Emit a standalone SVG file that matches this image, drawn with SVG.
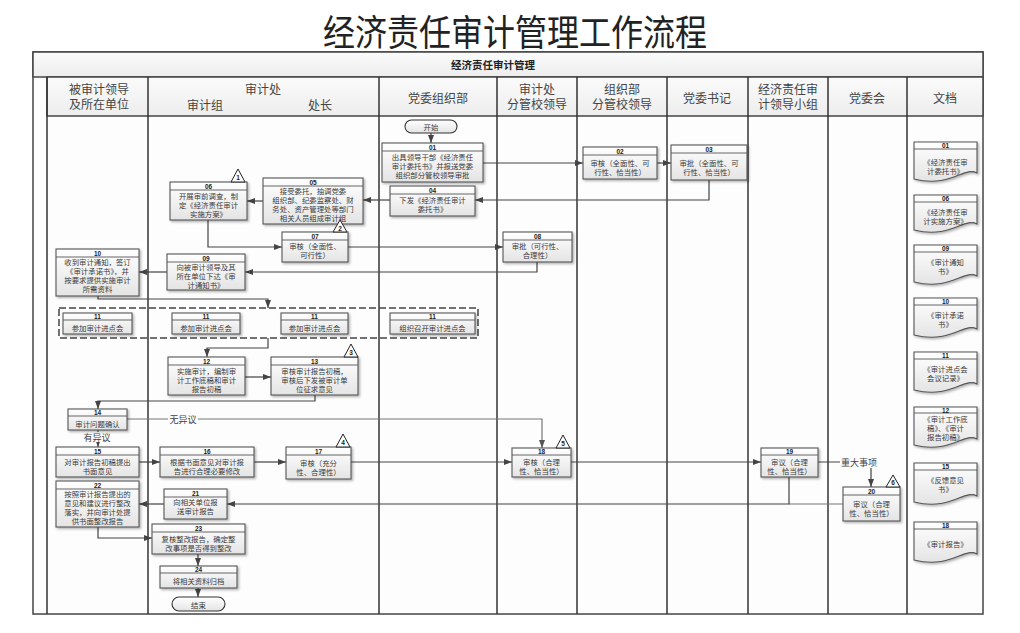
<svg xmlns="http://www.w3.org/2000/svg" width="1020" height="633" viewBox="0 0 1020 633">
<defs>
<linearGradient id="gb" x1="0" y1="0" x2="0" y2="1"><stop offset="0" stop-color="#ffffff"/><stop offset="1" stop-color="#e4e4e4"/></linearGradient>
<linearGradient id="gh" x1="0" y1="0" x2="0" y2="1"><stop offset="0" stop-color="#fbfbfb"/><stop offset="1" stop-color="#ededed"/></linearGradient>
<filter id="sh" x="-10%" y="-10%" width="130%" height="140%"><feDropShadow dx="1.5" dy="1.5" stdDeviation="0.8" flood-color="#000" flood-opacity="0.3"/></filter>
<marker id="ar" viewBox="0 0 8 6" refX="8" refY="3" markerWidth="8" markerHeight="6" markerUnits="userSpaceOnUse" orient="auto"><path d="M0,0 L8,3 L0,6 Z" fill="#444"/></marker>
<marker id="arg" viewBox="0 0 8 6" refX="8" refY="3" markerWidth="8" markerHeight="6" markerUnits="userSpaceOnUse" orient="auto"><path d="M0,0 L8,3 L0,6 Z" fill="#555"/></marker>
</defs>
<style>
.b{fill:url(#gb);stroke:#555;stroke-width:1.1;filter:url(#sh)}
.h{stroke:#555;stroke-width:0.9}
.n{font-family:"Liberation Sans",sans-serif;font-size:6.5px;font-weight:bold;fill:#222;text-anchor:middle;dominant-baseline:central}
.t{font-family:"Noto Sans CJK SC",sans-serif;font-size:7.4px;fill:#3a3a3a;text-anchor:middle;dominant-baseline:central}
.hd{font-family:"Noto Sans CJK SC",sans-serif;font-size:12px;fill:#444;text-anchor:middle;dominant-baseline:central}
.lane{stroke:#333;stroke-width:1.5}
.c{fill:none;stroke:#444;stroke-width:1.2;marker-end:url(#ar)}
.cg{fill:none;stroke:#777;stroke-width:1.2}
.lb{font-family:"Noto Sans CJK SC",sans-serif;font-size:9px;fill:#444;text-anchor:middle;dominant-baseline:central}
.tri{fill:#fff;stroke:#222;stroke-width:1}
.d{fill:url(#gb);stroke:#555;stroke-width:1.1;filter:url(#sh)}
.se{fill:url(#gb);stroke:#333;stroke-width:1.1}
</style>
<rect width="1020" height="633" fill="#ffffff"/>
<text x="515" y="30" font-family="Noto Sans CJK SC, sans-serif" font-size="32" fill="#222" text-anchor="middle" dominant-baseline="central" transform="translate(515,30) scale(1,1.15) translate(-515,-30)">经济责任审计管理工作流程</text>

<g id="frame">
<rect x="33" y="52" width="950" height="562" fill="#fdfdfd" stroke="#444" stroke-width="1.5"/>
<rect x="33" y="52" width="950" height="25" fill="url(#gh)" stroke="#444" stroke-width="1.5"/>
<rect x="47" y="77" width="936" height="39" fill="url(#gh)" stroke="#444" stroke-width="1.5"/>
<line class="lane" x1="47" y1="77" x2="47" y2="614"/>
<line class="lane" x1="148" y1="77" x2="148" y2="614"/>
<line class="lane" x1="379" y1="77" x2="379" y2="614"/>
<line class="lane" x1="497" y1="77" x2="497" y2="614"/>
<line class="lane" x1="577" y1="77" x2="577" y2="614"/>
<line class="lane" x1="667" y1="77" x2="667" y2="614"/>
<line class="lane" x1="748" y1="77" x2="748" y2="614"/>
<line class="lane" x1="828" y1="77" x2="828" y2="614"/>
<line class="lane" x1="907" y1="77" x2="907" y2="614"/>
<text x="493" y="64" font-family="Noto Sans CJK SC, sans-serif" font-size="10.5" font-weight="bold" fill="#222" text-anchor="middle" dominant-baseline="central">经济责任审计管理</text>
<text class="hd" x="99" y="88.5">被审计领导</text><text class="hd" x="99" y="103.5">及所在单位</text>
<text class="hd" x="263" y="88">审计处</text><text class="hd" x="205" y="104">审计组</text><text class="hd" x="320" y="104">处长</text>
<text class="hd" x="438" y="97">党委组织部</text>
<text class="hd" x="537" y="88.5">审计处</text><text class="hd" x="537" y="103.5">分管校领导</text>
<text class="hd" x="622" y="88.5">组织部</text><text class="hd" x="622" y="103.5">分管校领导</text>
<text class="hd" x="707" y="97">党委书记</text>
<text class="hd" x="788" y="88.5">经济责任审</text><text class="hd" x="788" y="103.5">计领导小组</text>
<text class="hd" x="867" y="97">党委会</text>
<text class="hd" x="945" y="97">文档</text>
</g>

<g id="connectors">
<path class="c" d="M431,133 V143"/>
<path class="c" d="M483,163 H583"/>
<path class="c" d="M657,163 H671"/>
<path class="c" d="M709,180 V200 H475"/>
<path class="c" d="M390,200 H363"/>
<path class="c" d="M263,201 H247"/>
<path class="c" d="M208,220 V247 H282"/>
<path class="c" d="M348,247 H503"/>
<path class="c" d="M537,262 V272 H245"/>
<path class="c" d="M167,272 H139"/>
<path class="c" d="M98,296 V299 H268 V308"/>
<path class="c" d="M268,338 V348 H207 V357"/>
<path class="c" d="M245,377 H271"/>
<path class="c" d="M315,395 V401 H98 V409"/>
<path class="cg" d="M127,419 H542 V448" marker-end="url(#arg)"/>
<rect x="168" y="413" width="30" height="12" fill="#fdfdfd"/>
<text class="lb" x="183" y="419">无异议</text>
<path class="c" d="M98,430 V447"/>
<rect x="83" y="432" width="30" height="10" fill="#fdfdfd"/>
<text class="lb" x="97" y="437">有异议</text>
<path class="c" d="M139,462 H160"/>
<path class="c" d="M254,462 H286"/>
<path class="c" d="M351,462 H512"/>
<path class="c" d="M571,462 H761"/>
<path class="c" d="M818,462 H871 V487"/>
<rect x="840" y="456" width="38" height="12" fill="#fdfdfd"/>
<text class="lb" x="859" y="462">重大事项</text>
<path class="cg" d="M843,504 H789"/>
<path class="c" d="M789,477 V504 H227"/>
<path class="c" d="M164,504 H139"/>
<path class="c" d="M98,527 V538 H152"/>
<path class="c" d="M198,554 V566"/>
<path class="c" d="M198,588 V597"/>
<rect x="59" y="308" width="419" height="30" fill="none" stroke="#444" stroke-width="1.5" stroke-dasharray="7,3"/>
</g>

<g id="start"><rect class="se" x="405" y="120" width="52" height="13" rx="6.5"/><text class="t" x="431" y="126.5">开始</text></g>
<g id="end"><rect class="se" x="172" y="597" width="53" height="14" rx="7"/><text class="t" x="198.5" y="604">结束</text></g>

<g id="n01"><rect class="b" x="382" y="143" width="101" height="39"/><line class="h" x1="382" y1="151" x2="483" y2="151"/><text class="n" x="432.5" y="147">01</text><text class="t" x="432.5" y="156">出具领导干部《经济责任</text><text class="t" x="432.5" y="165">审计委托书》并报送党委</text><text class="t" x="432.5" y="174">组织部分管校领导审批</text></g>
<g id="n02"><rect class="b" x="583" y="147" width="74" height="32"/><line class="h" x1="583" y1="155" x2="657" y2="155"/><text class="n" x="620" y="151">02</text><text class="t" x="620" y="162.5">审核（全面性、可</text><text class="t" x="620" y="171.5">行性、恰当性）</text></g>
<g id="n03"><rect class="b" x="671" y="145" width="76" height="35"/><line class="h" x1="671" y1="153" x2="747" y2="153"/><text class="n" x="709" y="149">03</text><text class="t" x="709" y="162">审批（全面性、可</text><text class="t" x="709" y="171">行性、恰当性）</text></g>
<g id="n04"><rect class="b" x="390" y="186" width="85" height="30"/><line class="h" x1="390" y1="194" x2="475" y2="194"/><text class="n" x="432.5" y="190">04</text><text class="t" x="432.5" y="199.5">下发《经济责任审计</text><text class="t" x="432.5" y="208.5">委托书》</text></g>
<g id="n05"><rect class="b" x="263" y="178" width="100" height="46"/><line class="h" x1="263" y1="186" x2="363" y2="186"/><text class="n" x="313" y="182">05</text><text class="t" x="313" y="190.5">接受委托，抽调党委</text><text class="t" x="313" y="199.5">组织部、纪委监察处、财</text><text class="t" x="313" y="208.5">务处、资产管理处等部门</text><text class="t" x="313" y="217.5">相关人员组成审计组</text></g>
<g id="n06"><rect class="b" x="170" y="182" width="77" height="38"/><line class="h" x1="170" y1="190" x2="247" y2="190"/><text class="n" x="208.5" y="186">06</text><text class="t" x="208.5" y="195">开展审前调查，制</text><text class="t" x="208.5" y="204">定《经济责任审计</text><text class="t" x="208.5" y="213">实施方案》</text></g>
<g id="n07"><rect class="b" x="282" y="232" width="66" height="30"/><line class="h" x1="282" y1="240" x2="348" y2="240"/><text class="n" x="315" y="236">07</text><text class="t" x="315" y="245.5">审核（全面性、</text><text class="t" x="315" y="254.5">可行性）</text></g>
<g id="n08"><rect class="b" x="503" y="232" width="69" height="30"/><line class="h" x1="503" y1="240" x2="572" y2="240"/><text class="n" x="537.5" y="236">08</text><text class="t" x="537.5" y="245.5">审批（可行性、</text><text class="t" x="537.5" y="254.5">合理性）</text></g>
<g id="n09"><rect class="b" x="167" y="254" width="78" height="36"/><line class="h" x1="167" y1="262" x2="245" y2="262"/><text class="n" x="206" y="258">09</text><text class="t" x="206" y="266.5">向被审计领导及其</text><text class="t" x="206" y="275.5">所在单位下达《审</text><text class="t" x="206" y="284.5">计通知书》</text></g>
<g id="n10"><rect class="b" x="56" y="249" width="83" height="47"/><line class="h" x1="56" y1="257" x2="139" y2="257"/><text class="n" x="97.5" y="253">10</text><text class="t" x="97.5" y="261.5">收到审计通知，签订</text><text class="t" x="97.5" y="270.5">《审计承诺书》，并</text><text class="t" x="97.5" y="279.5">按要求提供实施审计</text><text class="t" x="97.5" y="288.5">所需资料</text></g>
<g id="n11a"><rect class="b" x="63" y="313" width="69" height="21"/><line class="h" x1="63" y1="320" x2="132" y2="320"/><text class="n" x="97.5" y="316.5">11</text><text class="t" x="97.5" y="327.5">参加审计进点会</text></g>
<g id="n11b"><rect class="b" x="172" y="313" width="68" height="21"/><line class="h" x1="172" y1="320" x2="240" y2="320"/><text class="n" x="206" y="316.5">11</text><text class="t" x="206" y="327.5">参加审计进点会</text></g>
<g id="n11c"><rect class="b" x="281" y="313" width="67" height="21"/><line class="h" x1="281" y1="320" x2="348" y2="320"/><text class="n" x="314.5" y="316.5">11</text><text class="t" x="314.5" y="327.5">参加审计进点会</text></g>
<g id="n11d"><rect class="b" x="390" y="313" width="85" height="21"/><line class="h" x1="390" y1="320" x2="475" y2="320"/><text class="n" x="432.5" y="316.5">11</text><text class="t" x="432.5" y="327.5">组织召开审计进点会</text></g>
<g id="n12"><rect class="b" x="168" y="357" width="77" height="38"/><line class="h" x1="168" y1="365" x2="245" y2="365"/><text class="n" x="206.5" y="361">12</text><text class="t" x="206.5" y="370">实施审计，编制审</text><text class="t" x="206.5" y="379">计工作底稿和审计</text><text class="t" x="206.5" y="388">报告初稿</text></g>
<g id="n13"><rect class="b" x="271" y="357" width="87" height="38"/><line class="h" x1="271" y1="365" x2="358" y2="365"/><text class="n" x="314.5" y="361">13</text><text class="t" x="314.5" y="370">审核审计报告初稿，</text><text class="t" x="314.5" y="379">审核后下发被审计单</text><text class="t" x="314.5" y="388">位征求意见</text></g>
<g id="n14"><rect class="b" x="68" y="409" width="59" height="21"/><line class="h" x1="68" y1="416" x2="127" y2="416"/><text class="n" x="97.5" y="412.5">14</text><text class="t" x="97.5" y="423.5">审计问题确认</text></g>
<g id="n15"><rect class="b" x="56" y="447" width="83" height="30"/><line class="h" x1="56" y1="455" x2="139" y2="455"/><text class="n" x="97.5" y="451">15</text><text class="t" x="97.5" y="461.5">对审计报告初稿提出</text><text class="t" x="97.5" y="470.5">书面意见</text></g>
<g id="n16"><rect class="b" x="160" y="447" width="94" height="30"/><line class="h" x1="160" y1="455" x2="254" y2="455"/><text class="n" x="207" y="451">16</text><text class="t" x="207" y="461.5">根据书面意见对审计报</text><text class="t" x="207" y="470.5">告进行合理必要修改</text></g>
<g id="n17"><rect class="b" x="286" y="447" width="65" height="32"/><line class="h" x1="286" y1="455" x2="351" y2="455"/><text class="n" x="318.5" y="451">17</text><text class="t" x="318.5" y="462.5">审核（充分</text><text class="t" x="318.5" y="471.5">性、合理性）</text></g>
<g id="n18"><rect class="b" x="512" y="448" width="59" height="29"/><line class="h" x1="512" y1="455" x2="571" y2="455"/><text class="n" x="541.5" y="451.5">18</text><text class="t" x="541.5" y="461">审核（合理</text><text class="t" x="541.5" y="470">性、恰当性）</text></g>
<g id="n19"><rect class="b" x="761" y="448" width="57" height="29"/><line class="h" x1="761" y1="455" x2="818" y2="455"/><text class="n" x="789.5" y="451.5">19</text><text class="t" x="789.5" y="461">审议（合理</text><text class="t" x="789.5" y="470">性、恰当性）</text></g>
<g id="n20"><rect class="b" x="843" y="487" width="57" height="34"/><line class="h" x1="843" y1="495" x2="900" y2="495"/><text class="n" x="871.5" y="491">20</text><text class="t" x="871.5" y="503.5">审议（合理</text><text class="t" x="871.5" y="512.5">性、恰当性）</text></g>
<g id="n21"><rect class="b" x="164" y="489" width="63" height="30"/><line class="h" x1="164" y1="497" x2="227" y2="497"/><text class="n" x="195.5" y="493">21</text><text class="t" x="195.5" y="501.5">向相关单位报</text><text class="t" x="195.5" y="510.5">送审计报告</text></g>
<g id="n22"><rect class="b" x="56" y="481" width="83" height="46"/><line class="h" x1="56" y1="489" x2="139" y2="489"/><text class="n" x="97.5" y="485">22</text><text class="t" x="97.5" y="493.5">按照审计报告提出的</text><text class="t" x="97.5" y="502.5">意见和建议进行整改</text><text class="t" x="97.5" y="511.5">落实，并向审计处提</text><text class="t" x="97.5" y="520.5">供书面整改报告</text></g>
<g id="n23"><rect class="b" x="152" y="524" width="93" height="30"/><line class="h" x1="152" y1="532" x2="245" y2="532"/><text class="n" x="198.5" y="528">23</text><text class="t" x="198.5" y="538">复核整改报告，确定整</text><text class="t" x="198.5" y="547">改事项是否得到整改</text></g>
<g id="n24"><rect class="b" x="160" y="566" width="77" height="22"/><line class="h" x1="160" y1="573" x2="237" y2="573"/><text class="n" x="198.5" y="569.5">24</text><text class="t" x="198.5" y="580.5">将相关资料归档</text></g>

<g id="markers">
<path class="tri" d="M231,182 L238,169 L245,182 Z"/><text class="n" x="238" y="177.5">1</text>
<path class="tri" d="M333,232 L340,220 L347,232 Z"/><text class="n" x="340" y="228">2</text>
<path class="tri" d="M344,357 L351,344 L358,357 Z"/><text class="n" x="351" y="352.5">3</text>
<path class="tri" d="M336,447 L343,434 L350,447 Z"/><text class="n" x="343" y="442.5">4</text>
<path class="tri" d="M556,448 L563,435 L570,448 Z"/><text class="n" x="563" y="443.5">5</text>
<path class="tri" d="M886,487 L893,475 L900,487 Z"/><text class="n" x="893" y="482.5">6</text>
</g>

<g id="docs">
<g id="d01"><path class="d" d="M914,142 H977 V173 C964,166 951,188 914,179 Z"/><line class="h" x1="914" y1="149" x2="977" y2="149"/><text class="n" x="945.5" y="145.5">01</text><text class="t" x="945.5" y="161.5">《经济责任审</text><text class="t" x="945.5" y="170.5">计委托书》</text></g>
<g id="d06"><path class="d" d="M914,195 H977 V224 C964,217 951,239 914,230 Z"/><line class="h" x1="914" y1="202" x2="977" y2="202"/><text class="n" x="945.5" y="198.5">06</text><text class="t" x="945.5" y="211">《经济责任审</text><text class="t" x="945.5" y="220">计实施方案》</text></g>
<g id="d09"><path class="d" d="M914,245 H977 V276 C964,269 951,291 914,282 Z"/><line class="h" x1="914" y1="252" x2="977" y2="252"/><text class="n" x="945.5" y="248.5">09</text><text class="t" x="945.5" y="261.5">《审计通知</text><text class="t" x="945.5" y="270.5">书》</text></g>
<g id="d10"><path class="d" d="M914,298 H977 V329 C964,322 951,344 914,335 Z"/><line class="h" x1="914" y1="305" x2="977" y2="305"/><text class="n" x="945.5" y="301.5">10</text><text class="t" x="945.5" y="314.5">《审计承诺</text><text class="t" x="945.5" y="323.5">书》</text></g>
<g id="d11"><path class="d" d="M914,352 H977 V384 C964,377 951,399 914,390 Z"/><line class="h" x1="914" y1="359" x2="977" y2="359"/><text class="n" x="945.5" y="355.5">11</text><text class="t" x="945.5" y="368">《审计进点会</text><text class="t" x="945.5" y="377">会议记录》</text></g>
<g id="d12"><path class="d" d="M914,407 H977 V439 C964,432 951,454 914,445 Z"/><line class="h" x1="914" y1="413" x2="977" y2="413"/><text class="n" x="945.5" y="410">12</text><text class="t" x="945.5" y="418.5">《审计工作底</text><text class="t" x="945.5" y="427.5">稿》、《审计</text><text class="t" x="945.5" y="436.5">报告初稿》</text></g>
<g id="d15"><path class="d" d="M914,463 H977 V496 C964,489 951,511 914,502 Z"/><line class="h" x1="914" y1="470" x2="977" y2="470"/><text class="n" x="945.5" y="466.5">15</text><text class="t" x="945.5" y="479.5">《反馈意见</text><text class="t" x="945.5" y="488.5">书》</text></g>
<g id="d18"><path class="d" d="M914,522 H977 V554 C964,547 951,569 914,560 Z"/><line class="h" x1="914" y1="529" x2="977" y2="529"/><text class="n" x="945.5" y="525.5">18</text><text class="t" x="945.5" y="543">《审计报告》</text></g>
</g>
</svg>
